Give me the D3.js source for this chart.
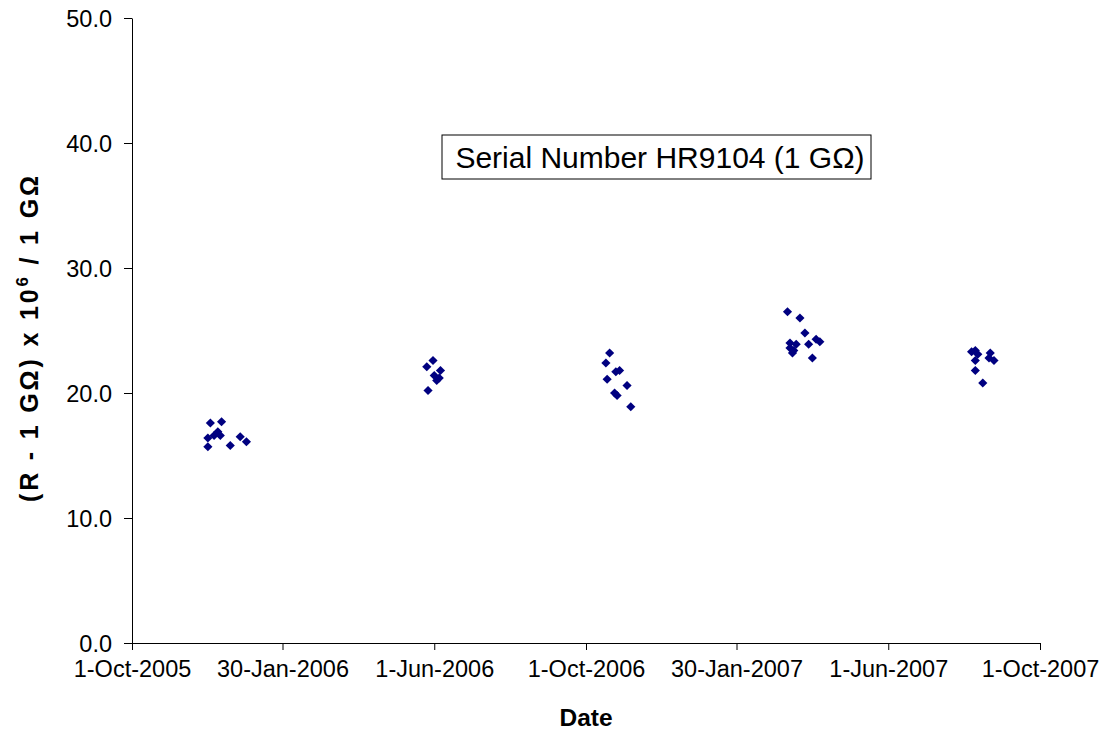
<!DOCTYPE html>
<html>
<head>
<meta charset="utf-8">
<script src="https://cdn.jsdelivr.net/npm/d3@7"></script>
<style>
  body { margin: 0; background: #fff; }
  svg { font-family: "Liberation Sans", Arial, sans-serif; }
</style>
</head>
<body>
<div id="chart"></div>
<script>
var dates = [
  "2005-12-01", "2005-12-03", "2005-12-01", "2005-12-06", "2005-12-09",
  "2005-12-11", "2005-12-12", "2005-12-19", "2005-12-27", "2006-01-01",
  "2006-05-31", "2006-05-26", "2006-06-06", "2006-06-01", "2006-06-05",
  "2006-06-03", "2006-05-27",
  "2006-10-20", "2006-10-17", "2006-10-28", "2006-10-25", "2006-10-18",
  "2006-11-03", "2006-10-24", "2006-10-26", "2006-11-06",
  "2007-03-12", "2007-03-22", "2007-03-26", "2007-04-04", "2007-04-07",
  "2007-03-29", "2007-03-14", "2007-03-19", "2007-03-14", "2007-03-17",
  "2007-03-16", "2007-04-01",
  "2007-08-07", "2007-08-10", "2007-08-12", "2007-08-10", "2007-08-22",
  "2007-08-21", "2007-08-25", "2007-08-10", "2007-08-16"
];
var values = [
  15.7, 17.6, 16.4, 16.6, 16.9, 16.6, 17.7, 15.8, 16.5, 16.1,
  22.6, 22.1, 21.8, 21.4, 21.2, 21.0, 20.2,
  23.2, 22.4, 21.8, 21.7, 21.1, 20.6, 20.0, 19.8, 18.9,
  26.5, 26.0, 24.8, 24.3, 24.1, 23.9, 24.0, 23.9, 23.6, 23.4, 23.2, 22.8,
  23.3, 23.4, 23.1, 22.6, 23.2, 22.8, 22.6, 21.8, 20.8
];
var xTicks = ["2005-10-01", "2006-01-30", "2006-06-01", "2006-10-01", "2007-01-30", "2007-06-01", "2007-10-01"];
var yTicks = [0, 10, 20, 30, 40, 50];

var width = 1105, height = 736;
var plotLeft = 132, plotRight = 1040, plotTop = 18, plotBottom = 643;
var parse = d3.utcParse("%Y-%m-%d");
var fmt = d3.utcFormat("%-d-%b-%Y");

var svg = d3.select('#chart').append('svg')
  .attr('width', width)
  .attr('height', height);

var x = d3.scaleUtc()
  .domain([parse("2005-10-01"), parse("2007-10-01")])
  .range([plotLeft, plotRight]);
var y = d3.scaleLinear()
  .domain([0, 50])
  .range([plotBottom, plotTop]);

var xAxis = svg.append('g')
  .attr('transform', 'translate(0,' + plotBottom + ')')
  .call(d3.axisBottom(x)
    .tickValues(xTicks.map(parse))
    .tickFormat(fmt)
    .tickSize(7)
    .tickSizeOuter(0)
    .tickPadding(10));
var yAxis = svg.append('g')
  .attr('transform', 'translate(' + plotLeft + ',0)')
  .call(d3.axisLeft(y)
    .tickValues(yTicks)
    .tickFormat(d3.format('.1f'))
    .tickSize(8)
    .tickSizeOuter(0)
    .tickPadding(12));

svg.selectAll('.tick text')
  .attr('font-size', 23.5)
  .attr('font-family', '"Liberation Sans", Arial, sans-serif')
  .attr('fill', '#000');
svg.selectAll('.domain, .tick line').attr('stroke', '#000');
yAxis.selectAll('.tick text').attr('dy', '0.36em');

var pts = dates.map(function(d, i) { return { date: parse(d), value: values[i] }; });
var diamond = d3.symbol().type(d3.symbolSquare).size(42);
svg.append('g').selectAll('path')
  .data(pts)
  .enter()
  .append('path')
  .attr('d', diamond)
  .attr('transform', function(d) {
    return 'translate(' + x(d.date) + ',' + y(d.value) + ') rotate(45)';
  })
  .attr('fill', '#000080');

// axis titles
svg.append('text')
  .attr('x', (plotLeft + plotRight) / 2)
  .attr('y', 726)
  .attr('text-anchor', 'middle')
  .attr('font-size', 24.5)
  .attr('font-weight', 'bold')
  .text('Date');

var yt = svg.append('text')
  .attr('transform', 'translate(38,339) rotate(-90)')
  .attr('text-anchor', 'middle')
  .attr('font-size', 25)
  .attr('font-weight', 'bold')
  .attr('textLength', 326)
  .attr('lengthAdjust', 'spacing');
yt.append('tspan').text('(R - 1 G\u03A9) x 10');
yt.append('tspan').attr('dy', -10).attr('font-size', 17).text('6');
yt.append('tspan').attr('dy', 10).text(' / 1 G\u03A9');

// label box
var box = svg.append('g');
box.append('rect')
  .attr('x', 442).attr('y', 135)
  .attr('width', 429).attr('height', 44)
  .attr('fill', '#fff')
  .attr('stroke', '#000');
box.append('text')
  .attr('x', 660).attr('y', 168)
  .attr('text-anchor', 'middle')
  .attr('font-size', 30)
  .text('Serial Number HR9104 (1 G\u03A9)');
</script>
</body>
</html>
